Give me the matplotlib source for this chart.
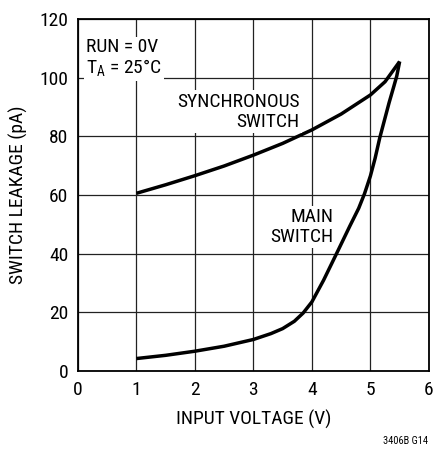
import numpy as np
import matplotlib
matplotlib.use("Agg")
import matplotlib.pyplot as plt

plt.rcParams['font.family'] = ['Roboto Condensed', 'DejaVu Sans']
plt.rcParams['mathtext.fontset'] = 'custom'
plt.rcParams['mathtext.rm'] = 'Roboto Condensed'

# synchronous switch leakage vs input voltage
sync_v = [1.0, 1.5, 2.0, 2.5, 3.0, 3.5, 4.0, 4.5, 5.0, 5.25, 5.5]
sync_i = [60.6, 63.5, 66.6, 69.9, 73.6, 77.6, 82.2, 87.6, 94.1, 98.6, 105.5]

# main switch leakage vs input voltage
main_v = [1.0, 1.5, 2.0, 2.5, 3.0, 3.3, 3.5, 3.7, 3.85, 4.0, 4.2, 4.42,
          4.65, 4.8, 4.9, 5.0, 5.08, 5.16, 5.24, 5.32, 5.4, 5.45, 5.5]
main_i = [4.3, 5.4, 6.8, 8.5, 10.8, 12.8, 14.5, 17.0, 19.8, 23.6, 31.0, 40.0,
          49.5, 55.5, 60.5, 66.5, 72.5, 79.5, 85.5, 91.5, 97.0, 100.5, 105.5]

fig = plt.figure(figsize=(4.35, 4.51), dpi=100)
ax = fig.add_axes([0.179, 0.177, 0.807, 0.781])

ax.plot(sync_v, sync_i, color='black', lw=2.5, solid_capstyle='butt', zorder=3)
ax.plot(main_v, main_i, color='black', lw=2.5, solid_capstyle='butt', zorder=3)

ax.set_xlim(0, 6)
ax.set_ylim(0, 120)
ax.set_xticks(range(0, 7))
ax.set_yticks(range(0, 121, 20))
ax.grid(True, color='#222222', lw=0.9)
ax.set_axisbelow(True)
ax.tick_params(length=0, pad=7, labelsize=14)
for s in ax.spines.values():
    s.set_linewidth(1.3)

ax.set_xlabel('INPUT VOLTAGE (V)', fontsize=14, labelpad=8)
ax.set_ylabel('SWITCH LEAKAGE (pA)', fontsize=14, labelpad=8)

box = dict(facecolor='white', edgecolor='none', pad=1.5)
ax.text(0.14, 113.5, 'RUN = 0V\nT$_\\mathregular{A}$ = 25°C', fontsize=14,
        ha='left', va='top', linespacing=1.1, bbox=box, zorder=4)
ax.text(3.79, 83.3, 'SYNCHRONOUS\nSWITCH', fontsize=14, ha='right',
        va='baseline', multialignment='right', linespacing=1.15, bbox=box, zorder=4)
ax.text(4.37, 44.0, 'MAIN\nSWITCH', fontsize=14, ha='right',
        va='baseline', multialignment='right', linespacing=1.15, bbox=box, zorder=4)

fig.text(0.984, 0.012, '3406B G14', fontsize=7.5, ha='right', va='bottom')

fig.savefig('out.png', dpi=100)
